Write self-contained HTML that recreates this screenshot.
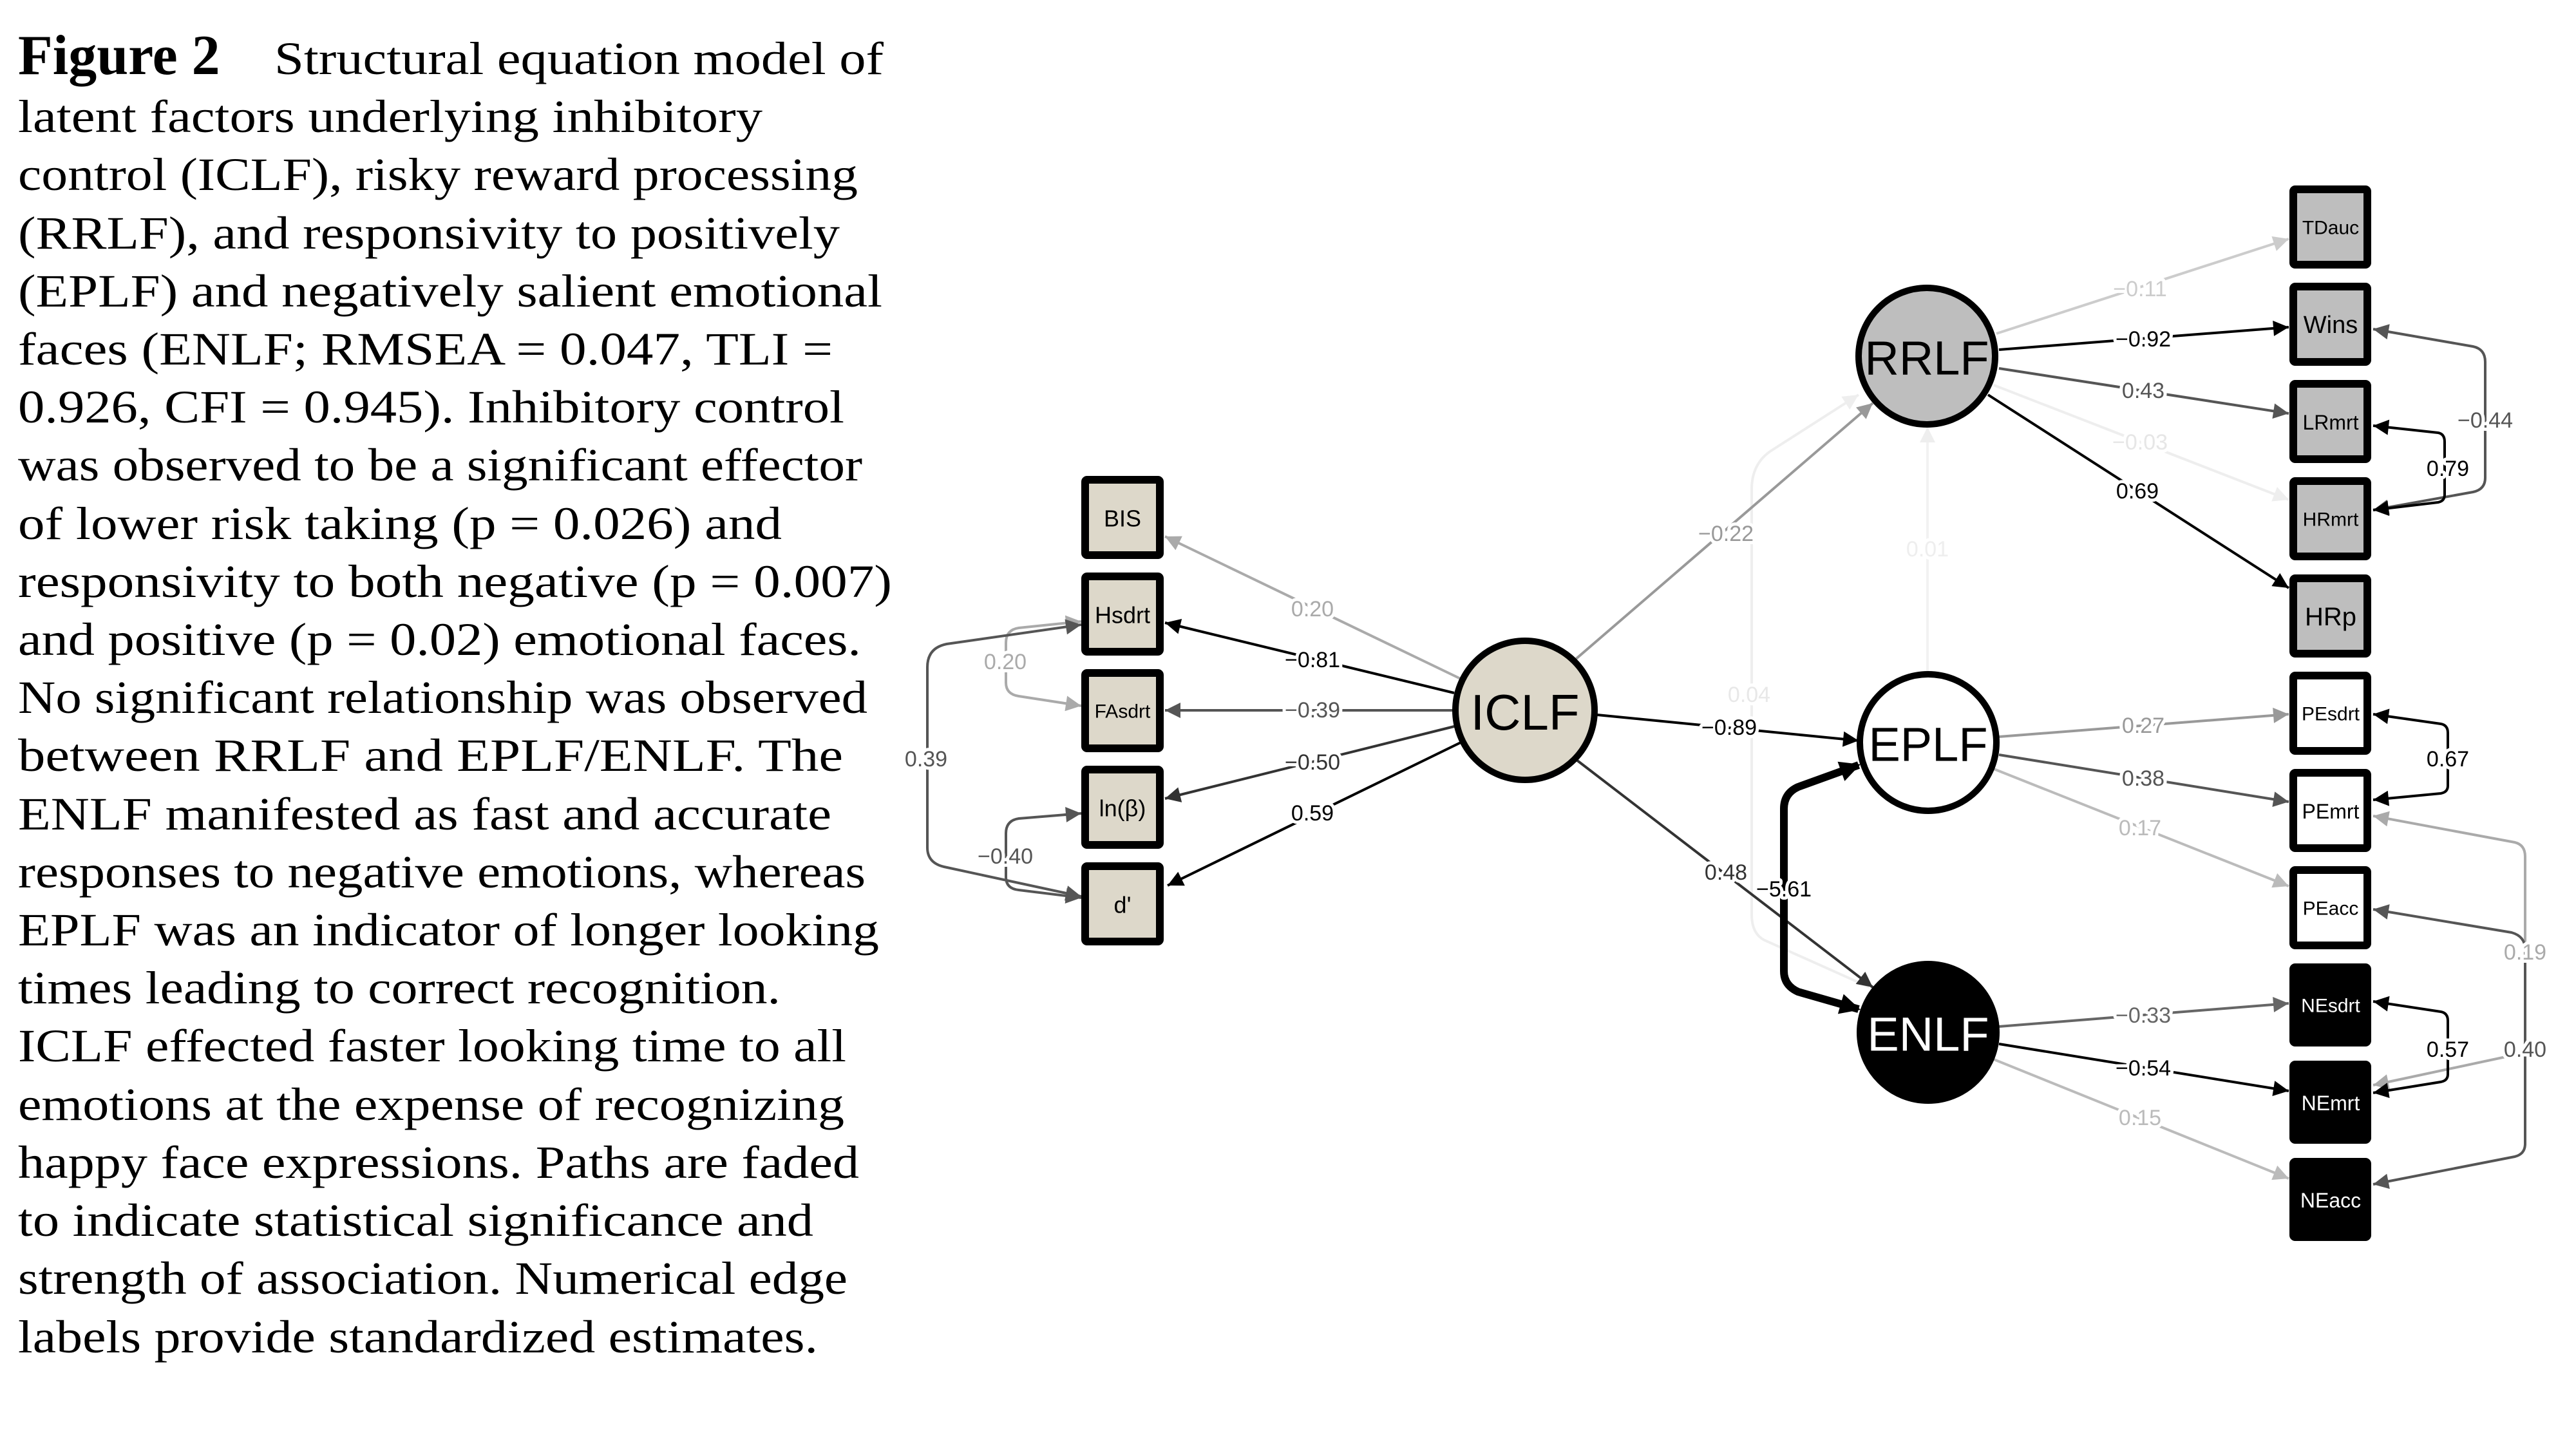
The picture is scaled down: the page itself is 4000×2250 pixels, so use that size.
<!DOCTYPE html>
<html><head><meta charset="utf-8"><style>
html,body{margin:0;padding:0;background:#fff;}
svg{display:block;}
.cap{font-family:"Liberation Serif",serif;font-size:72px;fill:#000;}
.lbl{font-family:"Liberation Sans",sans-serif;font-size:34px;text-anchor:middle;dominant-baseline:central;paint-order:stroke;stroke:#fff;stroke-width:10px;stroke-linejoin:round;}
.nd{font-family:"Liberation Sans",sans-serif;text-anchor:middle;dominant-baseline:central;}
</style></head><body>
<svg width="4000" height="2250" viewBox="0 0 4000 2250" xmlns="http://www.w3.org/2000/svg">
<defs>
<marker id="m000" viewBox="0 0 10 10" refX="10" refY="5" markerWidth="30" markerHeight="24" markerUnits="userSpaceOnUse" orient="auto-start-reverse"><path d="M0,0L10,5L0,10z" fill="#000"/></marker>
<marker id="m333" viewBox="0 0 10 10" refX="10" refY="5" markerWidth="30" markerHeight="24" markerUnits="userSpaceOnUse" orient="auto-start-reverse"><path d="M0,0L10,5L0,10z" fill="#333"/></marker>
<marker id="m555" viewBox="0 0 10 10" refX="10" refY="5" markerWidth="30" markerHeight="24" markerUnits="userSpaceOnUse" orient="auto-start-reverse"><path d="M0,0L10,5L0,10z" fill="#555"/></marker>
<marker id="m666" viewBox="0 0 10 10" refX="10" refY="5" markerWidth="30" markerHeight="24" markerUnits="userSpaceOnUse" orient="auto-start-reverse"><path d="M0,0L10,5L0,10z" fill="#666"/></marker>
<marker id="m999" viewBox="0 0 10 10" refX="10" refY="5" markerWidth="30" markerHeight="24" markerUnits="userSpaceOnUse" orient="auto-start-reverse"><path d="M0,0L10,5L0,10z" fill="#999"/></marker>
<marker id="maaa" viewBox="0 0 10 10" refX="10" refY="5" markerWidth="30" markerHeight="24" markerUnits="userSpaceOnUse" orient="auto-start-reverse"><path d="M0,0L10,5L0,10z" fill="#aaa"/></marker>
<marker id="mbbb" viewBox="0 0 10 10" refX="10" refY="5" markerWidth="30" markerHeight="24" markerUnits="userSpaceOnUse" orient="auto-start-reverse"><path d="M0,0L10,5L0,10z" fill="#bbb"/></marker>
<marker id="mccc" viewBox="0 0 10 10" refX="10" refY="5" markerWidth="30" markerHeight="24" markerUnits="userSpaceOnUse" orient="auto-start-reverse"><path d="M0,0L10,5L0,10z" fill="#ccc"/></marker>
<marker id="meee" viewBox="0 0 10 10" refX="10" refY="5" markerWidth="30" markerHeight="24" markerUnits="userSpaceOnUse" orient="auto-start-reverse"><path d="M0,0L10,5L0,10z" fill="#eee"/></marker>
<marker id="mthick" viewBox="0 0 10 10" refX="9" refY="5" markerWidth="40" markerHeight="32" markerUnits="userSpaceOnUse" orient="auto-start-reverse"><path d="M0,0L10,5L0,10z" fill="#000"/></marker>
</defs>

<!-- Caption -->
<text class="cap" x="28" y="115" style="font-weight:bold;font-size:88px">Figure 2</text>
<text class="cap" x="426" y="115" textLength="946" lengthAdjust="spacingAndGlyphs">Structural equation model of</text>
<text class="cap" x="28" y="205" textLength="1156" lengthAdjust="spacingAndGlyphs">latent factors underlying inhibitory</text>
<text class="cap" x="28" y="295" textLength="1304" lengthAdjust="spacingAndGlyphs">control (ICLF), risky reward processing</text>
<text class="cap" x="28" y="386" textLength="1276" lengthAdjust="spacingAndGlyphs">(RRLF), and responsivity to positively</text>
<text class="cap" x="28" y="476" textLength="1342" lengthAdjust="spacingAndGlyphs">(EPLF) and negatively salient emotional</text>
<text class="cap" x="28" y="566" textLength="1265" lengthAdjust="spacingAndGlyphs">faces (ENLF; RMSEA = 0.047, TLI =</text>
<text class="cap" x="28" y="656" textLength="1283" lengthAdjust="spacingAndGlyphs">0.926, CFI = 0.945). Inhibitory control</text>
<text class="cap" x="28" y="746" textLength="1311" lengthAdjust="spacingAndGlyphs">was observed to be a significant effector</text>
<text class="cap" x="28" y="837" textLength="1186" lengthAdjust="spacingAndGlyphs">of lower risk taking (p = 0.026) and</text>
<text class="cap" x="28" y="927" textLength="1357" lengthAdjust="spacingAndGlyphs">responsivity to both negative (p = 0.007)</text>
<text class="cap" x="28" y="1017" textLength="1309" lengthAdjust="spacingAndGlyphs">and positive (p = 0.02) emotional faces.</text>
<text class="cap" x="28" y="1107" textLength="1319" lengthAdjust="spacingAndGlyphs">No significant relationship was observed</text>
<text class="cap" x="28" y="1197" textLength="1281" lengthAdjust="spacingAndGlyphs">between RRLF and EPLF/ENLF. The</text>
<text class="cap" x="28" y="1288" textLength="1263" lengthAdjust="spacingAndGlyphs">ENLF manifested as fast and accurate</text>
<text class="cap" x="28" y="1378" textLength="1316" lengthAdjust="spacingAndGlyphs">responses to negative emotions, whereas</text>
<text class="cap" x="28" y="1468" textLength="1337" lengthAdjust="spacingAndGlyphs">EPLF was an indicator of longer looking</text>
<text class="cap" x="28" y="1558" textLength="1184" lengthAdjust="spacingAndGlyphs">times leading to correct recognition.</text>
<text class="cap" x="28" y="1648" textLength="1286" lengthAdjust="spacingAndGlyphs">ICLF effected faster looking time to all</text>
<text class="cap" x="28" y="1739" textLength="1283" lengthAdjust="spacingAndGlyphs">emotions at the expense of recognizing</text>
<text class="cap" x="28" y="1829" textLength="1306" lengthAdjust="spacingAndGlyphs">happy face expressions. Paths are faded</text>
<text class="cap" x="28" y="1919" textLength="1235" lengthAdjust="spacingAndGlyphs">to indicate statistical significance and</text>
<text class="cap" x="28" y="2009" textLength="1288" lengthAdjust="spacingAndGlyphs">strength of association. Numerical edge</text>
<text class="cap" x="28" y="2100" textLength="1242" lengthAdjust="spacingAndGlyphs">labels provide standardized estimates.</text>

<!-- faint edges -->
<g fill="none" stroke-width="4">
<path d="M2903,1533 L2740,1460 Q2720,1450 2720,1420 L2720,760 Q2720,720 2750,700 L2886,613" stroke="#eee" marker-end="url(#meee)"/>
<path d="M2993,1042 L2993,663" stroke="#f2f2f2" marker-end="url(#meee)"/>
<path d="M3096,598 L3554,776" stroke="#eee" marker-end="url(#meee)"/>
<path d="M3100,518 L3554,371" stroke="#ccc" marker-end="url(#mccc)"/>
</g>
<text class="lbl" x="2716" y="1079" fill="#e8e8e8">0.04</text>
<text class="lbl" x="2993" y="853" fill="#eee">0.01</text>
<text class="lbl" x="3323" y="687" fill="#e6e6e6">−0.03</text>
<text class="lbl" x="3323" y="449" fill="#ccc">−0.11</text>

<!-- ICLF edges -->
<g fill="none" stroke-width="4">
<path d="M2268,1054 L1809,833" stroke="#aaa" marker-end="url(#maaa)"/>
<path d="M2258,1076 L1809,967" stroke="#000" marker-end="url(#m000)"/>
<path d="M2258,1103 L1809,1103" stroke="#555" marker-end="url(#m555)"/>
<path d="M2258,1128 L1809,1240" stroke="#333" marker-end="url(#m333)"/>
<path d="M2268,1153 L1813,1375" stroke="#000" marker-end="url(#m000)"/>
<path d="M2445,1025 L2908,626" stroke="#999" marker-end="url(#m999)"/>
<path d="M2480,1110 L2886,1150" stroke="#000" marker-end="url(#m000)"/>
<path d="M2448,1180 L2908,1533" stroke="#333" marker-end="url(#m333)"/>
<!-- left covariances -->
<path d="M1679,965 L1582,975 Q1562,978 1562,998 L1562,1060 Q1562,1078 1582,1081 L1679,1096" stroke="#aaa" marker-start="url(#maaa)" marker-end="url(#maaa)"/>
<path d="M1679,970 L1470,1000 Q1440,1006 1440,1036 L1440,1316 Q1440,1340 1466,1346 L1679,1392" stroke="#555" marker-start="url(#m555)" marker-end="url(#m555)"/>
<path d="M1679,1263 L1582,1271 Q1562,1274 1562,1294 L1562,1362 Q1562,1380 1582,1382 L1679,1394" stroke="#555" marker-start="url(#m555)" marker-end="url(#m555)"/>
<!-- RRLF edges -->
<path d="M3104,543 L3554,508" stroke="#000" marker-end="url(#m000)"/>
<path d="M3104,572 L3554,642" stroke="#555" marker-end="url(#m555)"/>
<path d="M3087,613 L3554,913" stroke="#000" marker-end="url(#m000)"/>
<path d="M3685,511 L3840,538 Q3859,542 3859,562 L3859,742 Q3859,760 3840,764 L3685,792" stroke="#555" marker-start="url(#m555)" marker-end="url(#m555)"/>
<path d="M3685,661 L3786,672 Q3796,674 3796,686 L3796,768 Q3796,778 3786,780 L3685,792" stroke="#000" marker-start="url(#m000)" marker-end="url(#m000)"/>
<!-- EPLF edges -->
<path d="M3104,1144 L3554,1109" stroke="#999" marker-end="url(#m999)"/>
<path d="M3104,1172 L3554,1245" stroke="#555" marker-end="url(#m555)"/>
<path d="M3096,1194 L3554,1376" stroke="#bbb" marker-end="url(#mbbb)"/>
<path d="M3685,1109 L3790,1124 Q3801,1126 3801,1138 L3801,1220 Q3801,1230 3790,1232 L3685,1242" stroke="#000" marker-start="url(#m000)" marker-end="url(#m000)"/>
<path d="M3685,1267 L3905,1308 Q3921,1312 3921,1330 L3921,1618 Q3921,1634 3905,1638 L3685,1685" stroke="#aaa" marker-start="url(#maaa)" marker-end="url(#maaa)"/>
<path d="M3685,1412 L3900,1448 Q3921,1454 3921,1474 L3921,1776 Q3921,1792 3905,1796 L3685,1839" stroke="#555" marker-start="url(#m555)" marker-end="url(#m555)"/>
<!-- ENLF edges -->
<path d="M3104,1594 L3554,1558" stroke="#666" marker-end="url(#m666)"/>
<path d="M3104,1621 L3554,1694" stroke="#000" marker-end="url(#m000)"/>
<path d="M3096,1645 L3554,1830" stroke="#bbb" marker-end="url(#mbbb)"/>
<path d="M3685,1555 L3790,1571 Q3801,1573 3801,1585 L3801,1668 Q3801,1678 3790,1680 L3685,1697" stroke="#000" marker-start="url(#m000)" marker-end="url(#m000)"/>
<!-- EPLF-ENLF covariance thick -->
<path d="M2886,1188 L2792,1222 Q2770,1232 2770,1256 L2770,1508 Q2770,1530 2792,1540 L2886,1567" stroke="#000" stroke-width="12" marker-start="url(#mthick)" marker-end="url(#mthick)"/>
</g>

<!-- edge labels -->
<text class="lbl" x="2038" y="946" fill="#aaa">0.20</text>
<text class="lbl" x="2038" y="1025" fill="#000">−0.81</text>
<text class="lbl" x="2038" y="1103" fill="#555">−0.39</text>
<text class="lbl" x="2038" y="1184" fill="#333">−0.50</text>
<text class="lbl" x="2038" y="1263" fill="#000">0.59</text>
<text class="lbl" x="1561" y="1028" fill="#aaa">0.20</text>
<text class="lbl" x="1438" y="1179" fill="#555">0.39</text>
<text class="lbl" x="1561" y="1330" fill="#555">−0.40</text>
<text class="lbl" x="2680" y="829" fill="#999">−0.22</text>
<text class="lbl" x="2685" y="1130" fill="#000">−0.89</text>
<text class="lbl" x="2680" y="1355" fill="#333">0.48</text>
<text class="lbl" x="2770" y="1381" fill="#000">−5.61</text>
<text class="lbl" x="3328" y="527" fill="#000">−0.92</text>
<text class="lbl" x="3328" y="607" fill="#555">0.43</text>
<text class="lbl" x="3319" y="763" fill="#000">0.69</text>
<text class="lbl" x="3859" y="653" fill="#555">−0.44</text>
<text class="lbl" x="3801" y="728" fill="#000">0.79</text>
<text class="lbl" x="3328" y="1127" fill="#999">0.27</text>
<text class="lbl" x="3328" y="1209" fill="#555">0.38</text>
<text class="lbl" x="3323" y="1286" fill="#bbb">0.17</text>
<text class="lbl" x="3801" y="1179" fill="#000">0.67</text>
<text class="lbl" x="3921" y="1479" fill="#aaa">0.19</text>
<text class="lbl" x="3921" y="1630" fill="#555">0.40</text>
<text class="lbl" x="3801" y="1630" fill="#000">0.57</text>
<text class="lbl" x="3328" y="1577" fill="#666">−0.33</text>
<text class="lbl" x="3328" y="1659" fill="#000">−0.54</text>
<text class="lbl" x="3323" y="1736" fill="#bbb">0.15</text>

<!-- latent nodes -->
<g stroke="#000" stroke-width="10">
<ellipse cx="2368" cy="1103" rx="108" ry="108" fill="#ddd8ca"/>
<ellipse cx="2992" cy="553" rx="106" ry="106" fill="#bebebe"/>
<ellipse cx="2994" cy="1153" rx="106" ry="106" fill="#fff"/>
<ellipse cx="2994" cy="1603" rx="106" ry="106" fill="#000"/>
</g>
<text class="nd" x="2368" y="1106" font-size="78">ICLF</text>
<text class="nd" x="2992" y="556" font-size="74">RRLF</text>
<text class="nd" x="2994" y="1156" font-size="74">EPLF</text>
<text class="nd" x="2994" y="1606" font-size="74" fill="#fff">ENLF</text>

<!-- left boxes -->
<g stroke="#000" stroke-width="12" fill="#ddd8ca">
<rect x="1685" y="745" width="116" height="117" rx="3"/>
<rect x="1685" y="895" width="116" height="117" rx="3"/>
<rect x="1685" y="1045" width="116" height="117" rx="3"/>
<rect x="1685" y="1195" width="116" height="117" rx="3"/>
<rect x="1685" y="1345" width="116" height="117" rx="3"/>
</g>
<text class="nd" x="1743" y="805" font-size="36">BIS</text>
<text class="nd" x="1743" y="955" font-size="36">Hsdrt</text>
<text class="nd" x="1743" y="1105" font-size="30">FAsdrt</text>
<text class="nd" x="1743" y="1255" font-size="36">ln(β)</text>
<text class="nd" x="1743" y="1405" font-size="36">d'</text>

<!-- right boxes -->
<g stroke="#000" stroke-width="12">
<rect x="3561" y="294" width="115" height="117" rx="3" fill="#bebebe"/>
<rect x="3561" y="445" width="115" height="117" rx="3" fill="#bebebe"/>
<rect x="3561" y="596" width="115" height="117" rx="3" fill="#bebebe"/>
<rect x="3561" y="747" width="115" height="117" rx="3" fill="#bebebe"/>
<rect x="3561" y="898" width="115" height="117" rx="3" fill="#bebebe"/>
<rect x="3561" y="1049" width="115" height="117" rx="3" fill="#fff"/>
<rect x="3561" y="1200" width="115" height="117" rx="3" fill="#fff"/>
<rect x="3561" y="1351" width="115" height="117" rx="3" fill="#fff"/>
<rect x="3561" y="1502" width="115" height="117" rx="3" fill="#000"/>
<rect x="3561" y="1653" width="115" height="117" rx="3" fill="#000"/>
<rect x="3561" y="1804" width="115" height="117" rx="3" fill="#000"/>
</g>
<text class="nd" x="3619" y="354" font-size="30">TDauc</text>
<text class="nd" x="3619" y="505" font-size="38">Wins</text>
<text class="nd" x="3619" y="656" font-size="32">LRmrt</text>
<text class="nd" x="3619" y="807" font-size="30">HRmrt</text>
<text class="nd" x="3619" y="958" font-size="40">HRp</text>
<text class="nd" x="3619" y="1109" font-size="30">PEsdrt</text>
<text class="nd" x="3619" y="1260" font-size="32">PEmrt</text>
<text class="nd" x="3619" y="1411" font-size="30">PEacc</text>
<text class="nd" x="3619" y="1562" font-size="30" fill="#fff">NEsdrt</text>
<text class="nd" x="3619" y="1713" font-size="32" fill="#fff">NEmrt</text>
<text class="nd" x="3619" y="1864" font-size="32" fill="#fff">NEacc</text>
</svg>
</body></html>
